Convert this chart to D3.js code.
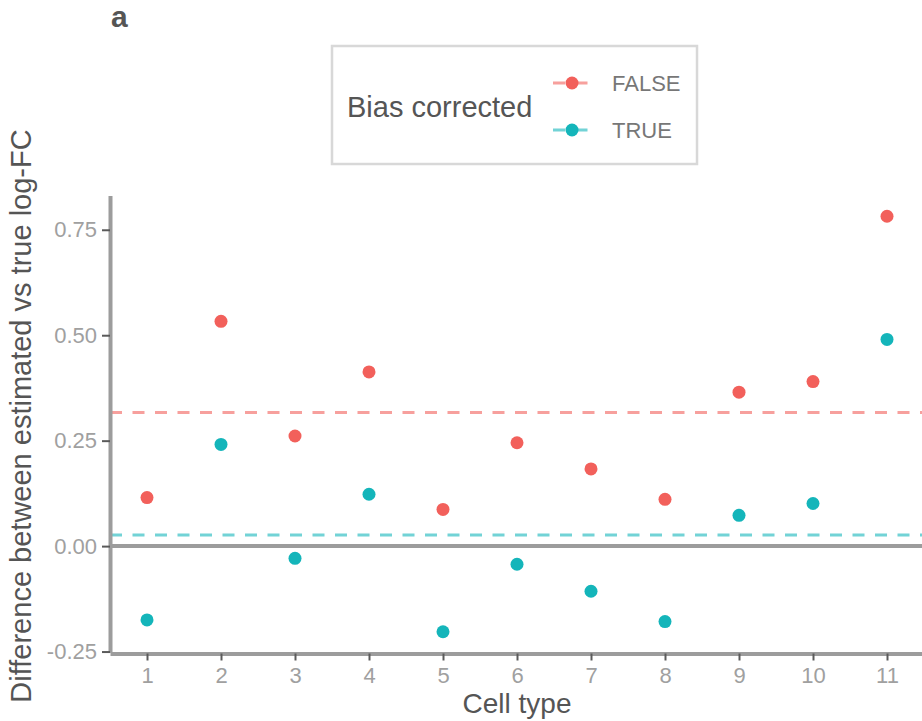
<!DOCTYPE html>
<html>
<head>
<meta charset="utf-8">
<script src="https://cdn.jsdelivr.net/npm/d3@7"></script>
<style>
  html, body { margin: 0; padding: 0; background: #fff; }
  svg { display: block; font-family: "Liberation Sans", Arial, sans-serif; }
</style>
</head>
<body>
<svg id="chart" width="922" height="721"></svg>
<script>
// ---- data ----
const categories = ["1","2","3","4","5","6","7","8","9","10","11"];
const falseValues = [0.115, 0.533, 0.261, 0.413, 0.087, 0.245, 0.183, 0.111, 0.365, 0.390, 0.782];
const trueValues  = [-0.175, 0.241, -0.029, 0.123, -0.203, -0.043, -0.107, -0.179, 0.073, 0.101, 0.490];
const groups = ["FALSE", "TRUE"];
const groupColors = ["#F2605B", "#14B5BA"];
const yTickValues = [-0.25, 0.00, 0.25, 0.50, 0.75];

const svg = d3.select("#chart");

const series = [
  { key: groups[0], values: falseValues, color: groupColors[0] },
  { key: groups[1], values: trueValues, color: groupColors[1] }
];

const all = falseValues.concat(trueValues);
const ext = d3.extent(all);
const pad = 0.05 * (ext[1] - ext[0]);

const x = d3.scalePoint().domain(categories).range([110, 924]).padding(0.5);
const y = d3.scaleLinear().domain([ext[0] - pad, ext[1] + pad]).range([652.5, 195.5]);

const axisColor = "#9c9c9c";
const tickColor = "#5a5a5a";
const tickTextColor = "#a0a0a0";
const titleColor = "#555";

// dashed mean lines
const dashG = svg.append("g");
series.forEach(s => {
  const m = d3.mean(s.values);
  dashG.append("line")
    .attr("x1", 110).attr("x2", 924)
    .attr("y1", y(m)).attr("y2", y(m))
    .attr("stroke", s.color).attr("stroke-opacity", 0.6)
    .attr("stroke-width", 3)
    .attr("stroke-dasharray", "12,10.5");
});

// zero line
svg.append("line")
  .attr("x1", 110).attr("x2", 924)
  .attr("y1", y(0)).attr("y2", y(0))
  .attr("stroke", axisColor).attr("stroke-width", 4);

// axes
const fmt = d => d3.format(".2f")(d).replace("\u2212", "-");
const yAxis = svg.append("g")
  .attr("transform", "translate(110,0)")
  .call(d3.axisLeft(y).tickValues(yTickValues).tickFormat(fmt).tickSize(8).tickSizeOuter(0).tickPadding(5));
const xAxis = svg.append("g")
  .attr("transform", "translate(0,653.5)")
  .call(d3.axisBottom(x).tickSize(7).tickSizeOuter(0).tickPadding(7));

[yAxis, xAxis].forEach(a => {
  a.select(".domain").attr("stroke", axisColor).attr("stroke-width", 4);
  a.selectAll(".tick line").attr("stroke", tickColor).attr("stroke-width", 2);
  a.selectAll(".tick text").attr("fill", tickTextColor)
    .style("font-size", "22px").style("font-family", "Liberation Sans, Arial, sans-serif");
});

// points
series.forEach(s => {
  svg.append("g").selectAll("circle")
    .data(s.values.map((v, i) => ({ c: categories[i], v })))
    .join("circle")
    .attr("cx", d => x(d.c))
    .attr("cy", d => y(d.v))
    .attr("r", 6.5)
    .attr("fill", s.color);
});

// axis titles
svg.append("text")
  .attr("x", x.range()[0] + (x.range()[1] - x.range()[0]) / 2)
  .attr("y", 713)
  .attr("text-anchor", "middle")
  .attr("fill", titleColor)
  .style("font-size", "28px")
  .text("Cell type");

svg.append("text")
  .attr("transform", `translate(31,${(195.5 + 652.5) / 2 - 8}) rotate(-90)`)
  .attr("text-anchor", "middle")
  .attr("fill", titleColor)
  .style("font-size", "29px")
  .text("Difference between estimated vs true log-FC");

// panel tag
svg.append("text")
  .attr("x", 111).attr("y", 27)
  .attr("fill", "#555")
  .style("font-size", "30px").style("font-weight", "bold")
  .text("a");

// legend
const lg = svg.append("g");
lg.append("rect")
  .attr("x", 332).attr("y", 46).attr("width", 365).attr("height", 118)
  .attr("fill", "#fff").attr("stroke", "#d8d8d8").attr("stroke-width", 2.5);
lg.append("text")
  .attr("x", 347).attr("y", 117)
  .attr("fill", titleColor)
  .style("font-size", "29px")
  .text("Bias corrected");
const keyY = [83, 130];
series.forEach((s, i) => {
  lg.append("line")
    .attr("x1", 553).attr("x2", 591)
    .attr("y1", keyY[i]).attr("y2", keyY[i])
    .attr("stroke", s.color).attr("stroke-opacity", 0.6)
    .attr("stroke-width", 3).attr("stroke-dasharray", "12,10.5");
  lg.append("circle")
    .attr("cx", 572).attr("cy", keyY[i]).attr("r", 6.5)
    .attr("fill", s.color);
  lg.append("text")
    .attr("x", 612).attr("y", keyY[i] + 8)
    .attr("fill", "#777")
    .style("font-size", "22px")
    .text(s.key);
});
</script>
</body>
</html>
